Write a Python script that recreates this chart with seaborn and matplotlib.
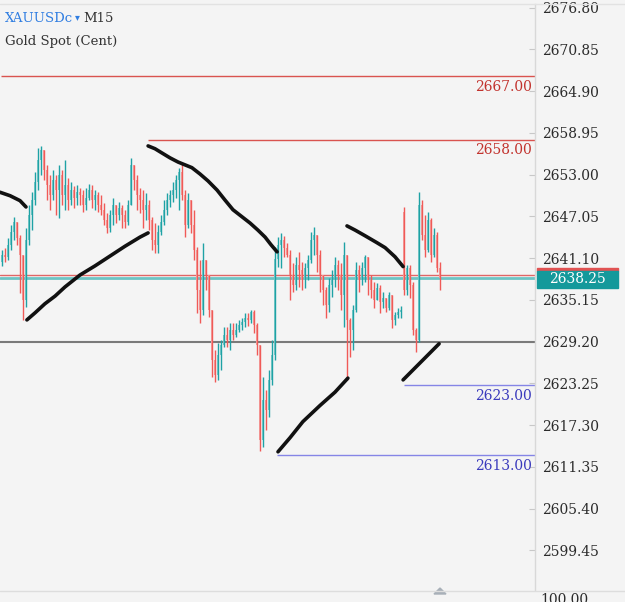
import matplotlib
matplotlib.use("Agg")
import matplotlib.pyplot as plt
import seaborn as sns
import numpy as np
import pandas as pd
from matplotlib.patches import Rectangle, Polygon
from matplotlib.lines import Line2D

# ---------------- data ----------------
symbol = "XAUUSDc"
timeframe = "M15"
subtitle = "Gold Spot (Cent)"

opens = [
    2640.6, 2641.6, 2641.2, 2643.0, 2644.8, 2646.3, 2644.0, 2641.6, 2635.2, 2643.7,
    2647.3, 2649.4, 2652.0, 2655.1, 2656.5, 2653.7, 2651.5, 2650.1, 2652.3, 2650.8,
    2653.0, 2650.1, 2651.5, 2649.4, 2650.8, 2649.7, 2650.6, 2650.1, 2648.7, 2649.7,
    2650.8, 2649.4, 2650.1, 2648.7, 2648.0, 2646.6, 2645.4, 2647.3, 2648.7, 2647.3,
    2648.3, 2647.3, 2646.3, 2648.7, 2654.4, 2652.3, 2650.1, 2649.4, 2648.0, 2648.7,
    2646.6, 2643.7, 2643.0, 2644.8, 2646.3, 2648.0, 2649.4, 2650.1, 2650.8, 2652.3,
    2653.4, 2650.1, 2645.8, 2649.4, 2645.8, 2642.3, 2636.6, 2633.7, 2640.9, 2638.7,
    2633.7, 2626.6, 2624.5, 2627.3, 2628.7, 2630.2, 2629.5, 2630.9, 2630.2, 2630.9,
    2631.6, 2632.0, 2632.6, 2632.3, 2633.4, 2631.6, 2628.7, 2615.2, 2620.9, 2619.5,
    2623.8, 2627.3, 2641.0, 2643.0, 2643.7, 2642.6, 2641.6, 2638.7, 2637.3, 2640.1,
    2639.4, 2638.0, 2639.7, 2640.9, 2643.7, 2644.4, 2641.6, 2638.7, 2636.6, 2634.4,
    2637.3, 2638.3, 2640.1, 2638.7, 2635.9, 2641.6, 2632.3, 2630.9, 2633.7, 2639.4,
    2638.0, 2639.7, 2641.2, 2638.0, 2636.6, 2635.2, 2636.9, 2634.9, 2635.4, 2634.0,
    2635.9, 2632.3, 2633.0, 2633.4, 2647.7, 2636.6, 2639.7, 2637.3, 2630.9, 2629.5,
    2648.7, 2644.4, 2642.3, 2646.6, 2641.6, 2644.4, 2639.7]
closes = [
    2641.6, 2641.2, 2643.0, 2644.8, 2646.3, 2644.0, 2641.6, 2635.2, 2643.7, 2647.3,
    2649.4, 2652.0, 2655.1, 2656.5, 2653.7, 2651.5, 2650.1, 2652.3, 2650.8, 2653.0,
    2650.1, 2651.5, 2649.4, 2650.8, 2649.7, 2650.6, 2650.1, 2648.7, 2649.7, 2650.8,
    2649.4, 2650.1, 2648.7, 2648.0, 2646.6, 2645.4, 2647.3, 2648.7, 2647.3, 2648.3,
    2647.3, 2646.3, 2648.7, 2654.4, 2652.3, 2650.1, 2649.4, 2648.0, 2648.7, 2646.6,
    2643.7, 2643.0, 2644.8, 2646.3, 2648.0, 2649.4, 2650.1, 2650.8, 2652.3, 2653.4,
    2650.1, 2645.8, 2649.4, 2645.8, 2642.3, 2636.6, 2633.7, 2640.9, 2638.7, 2633.7,
    2626.6, 2624.5, 2627.3, 2628.7, 2630.2, 2629.5, 2630.9, 2630.2, 2630.9, 2631.6,
    2632.0, 2632.6, 2632.3, 2633.4, 2631.6, 2628.7, 2615.2, 2620.9, 2619.5, 2623.8,
    2627.3, 2641.0, 2643.0, 2643.7, 2642.6, 2641.6, 2638.7, 2637.3, 2640.1, 2639.4,
    2638.0, 2639.7, 2640.9, 2643.7, 2644.4, 2641.6, 2638.7, 2636.6, 2634.4, 2637.3,
    2638.3, 2640.1, 2638.7, 2635.9, 2641.6, 2632.3, 2630.9, 2633.7, 2639.4, 2638.0,
    2639.7, 2641.2, 2638.0, 2636.6, 2635.2, 2636.9, 2634.9, 2635.4, 2634.0, 2635.9,
    2632.3, 2633.0, 2633.4, 2633.7, 2636.6, 2639.7, 2637.3, 2630.9, 2629.5, 2648.7,
    2644.4, 2642.3, 2646.6, 2641.6, 2644.4, 2639.7, 2638.25]
highs = [
    2642.3, 2642.6, 2644.0, 2645.8, 2647.0, 2646.3, 2644.4, 2641.6, 2645.4, 2648.7,
    2650.6, 2653.4, 2656.8, 2657.1, 2656.2, 2654.4, 2653.0, 2653.7, 2653.0, 2654.4,
    2653.7, 2655.1, 2652.5, 2652.0, 2651.4, 2651.5, 2651.1, 2650.8, 2651.1, 2651.7,
    2651.5, 2650.8, 2650.6, 2650.1, 2649.0, 2647.6, 2648.0, 2649.7, 2648.7, 2649.1,
    2648.7, 2648.0, 2649.4, 2655.4, 2654.1, 2653.0, 2651.1, 2650.8, 2650.4, 2649.4,
    2647.0, 2646.1, 2645.8, 2647.3, 2649.4, 2650.4, 2650.8, 2652.0, 2653.0, 2654.0,
    2654.7, 2650.8, 2650.4, 2648.4, 2648.0, 2642.7, 2640.9, 2643.3, 2640.9, 2638.4,
    2633.7, 2628.0, 2629.0, 2629.5, 2631.3, 2631.3, 2631.9, 2631.9, 2631.9, 2632.3,
    2632.6, 2633.3, 2633.3, 2633.7, 2633.7, 2631.9, 2628.7, 2624.2, 2622.3, 2625.2,
    2629.5, 2642.7, 2644.1, 2644.7, 2644.3, 2643.3, 2642.3, 2640.4, 2641.2, 2642.0,
    2640.6, 2640.4, 2641.6, 2644.8, 2645.6, 2643.0, 2642.3, 2638.4, 2637.0, 2638.3,
    2639.4, 2641.2, 2640.9, 2640.4, 2643.4, 2641.6, 2632.6, 2634.4, 2640.6, 2640.1,
    2640.6, 2641.6, 2641.2, 2638.7, 2637.7, 2637.6, 2637.3, 2636.3, 2635.4, 2636.3,
    2635.9, 2633.4, 2634.0, 2634.3, 2648.4, 2640.1, 2640.1, 2637.7, 2631.2, 2650.6,
    2649.4, 2647.3, 2647.7, 2646.8, 2645.4, 2644.8, 2640.6]
lows = [
    2640.0, 2640.6, 2640.9, 2642.3, 2643.7, 2643.0, 2636.2, 2632.3, 2634.2, 2643.0,
    2645.1, 2648.7, 2650.8, 2653.0, 2652.3, 2649.4, 2648.0, 2649.4, 2647.3, 2646.8,
    2648.7, 2648.0, 2648.0, 2648.7, 2648.3, 2648.7, 2648.7, 2647.7, 2648.0, 2649.4,
    2648.3, 2648.0, 2647.7, 2647.3, 2645.8, 2644.7, 2644.8, 2645.8, 2646.1, 2646.6,
    2645.4, 2645.4, 2645.8, 2648.7, 2650.8, 2648.0, 2647.6, 2645.4, 2646.6, 2645.1,
    2642.3, 2641.8, 2641.8, 2644.4, 2645.8, 2647.3, 2648.4, 2649.1, 2649.7, 2648.0,
    2649.4, 2644.1, 2645.4, 2644.7, 2640.9, 2633.3, 2631.9, 2633.0, 2636.6, 2632.7,
    2624.2, 2623.5, 2623.8, 2625.2, 2628.5, 2628.5, 2628.0, 2629.5, 2629.9, 2630.6,
    2630.9, 2631.3, 2631.4, 2631.9, 2630.4, 2627.3, 2613.6, 2614.2, 2616.6, 2618.5,
    2623.0, 2626.6, 2639.9, 2639.7, 2641.3, 2641.2, 2635.2, 2636.3, 2636.6, 2637.0,
    2636.6, 2636.9, 2638.0, 2640.4, 2641.6, 2639.1, 2636.3, 2634.4, 2632.6, 2633.4,
    2635.6, 2637.0, 2636.6, 2633.7, 2631.3, 2623.8, 2627.0, 2628.0, 2633.4, 2636.3,
    2637.3, 2637.7, 2635.9, 2635.4, 2634.0, 2635.2, 2633.3, 2634.0, 2633.4, 2633.7,
    2631.2, 2631.6, 2632.6, 2632.6, 2635.9, 2635.9, 2635.4, 2630.2, 2627.7, 2629.2,
    2643.7, 2641.2, 2642.0, 2640.6, 2641.2, 2639.1, 2636.6]

# hand-drawn trend strokes (bar index, price)
trend_a_x = [-0.7, 2.7, 6.0, 8.0]
trend_a_y = [2650.5, 2650.0, 2649.3, 2648.4]
trend_b_x = [8.3, 11.0, 14.3, 17.7, 21.0, 26.0, 31.0, 36.0, 41.0, 46.0, 48.7]
trend_b_y = [2632.3, 2633.3, 2634.6, 2635.7, 2637.0, 2638.7, 2640.0, 2641.4,
             2642.8, 2644.1, 2644.7]
trend_c_x = [48.7, 51.0, 53.3, 56.0, 58.7, 61.0, 63.3, 66.0, 68.7, 71.7, 74.3,
             77.0, 80.0, 82.7, 85.3, 87.7, 89.7, 91.7]
trend_c_y = [2657.1, 2656.7, 2656.1, 2655.4, 2654.8, 2654.4, 2654.0, 2653.1, 2652.1,
             2650.8, 2649.4, 2648.0, 2647.0, 2646.1, 2645.1, 2644.1, 2643.0, 2642.0]
trend_d_x = [92.0, 96.0, 100.3, 106.0, 111.0, 115.3]
trend_d_y = [2613.5, 2615.5, 2617.8, 2620.1, 2622.0, 2624.0]
trend_e_x = [115.0, 117.7, 121.0, 125.0, 127.7, 131.0, 133.7]
trend_e_y = [2645.7, 2645.1, 2644.3, 2643.3, 2642.6, 2641.3, 2639.9]
trend_f_x = [133.7, 145.7]
trend_f_y = [2623.75, 2628.9]

# horizontal levels
res_levels = [2667.00, 2658.00]
res_starts = [-0.3, 48.7]
sup_levels = [2623.00, 2613.00]
sup_starts = [134.0, 91.7]
pivot_level = 2629.20
last_price = 2638.25
ask_price = 2638.70

tick_values = [2676.80, 2670.85, 2664.90, 2658.95, 2653.00, 2647.05, 2641.10,
               2635.15, 2629.20, 2623.25, 2617.30, 2611.35, 2605.40, 2599.45]

# ---------------- style ----------------
BG = "#f4f4f4"
UP, UP_BODY = "#1ea2a5", "#7fcaca"
DN, DN_BODY = "#f05a57", "#f3a09f"
RED_LINE, RED_TXT = "#d9534f", "#c2332e"
BLUE_LINE, BLUE_TXT = "#8585e6", "#3b3bbd"

sns.set_theme(style="white")
plt.rcParams['font.family'] = ['DejaVu Serif', 'DejaVu Sans']

fig = plt.figure(figsize=(6.25, 6.02), dpi=100, facecolor=BG)
ax = fig.add_axes([0, 1 - 590 / 602, 535 / 625, 586 / 602])
ax.set_facecolor(BG)

df = pd.DataFrame({"o": opens, "h": highs, "l": lows, "c": closes})
df["i"] = np.arange(len(df))
df["h"] = df[["h", "o", "c"]].max(axis=1)
df["l"] = df[["l", "o", "c"]].min(axis=1)
up = df["c"] >= df["o"]
body_bottom = df[["o", "c"]].min(axis=1)
body_h = (df["c"] - df["o"]).abs().clip(lower=0.12)

ax.bar(df["i"], body_h, bottom=body_bottom, width=0.85,
       color=np.where(up, UP_BODY, DN_BODY), linewidth=0, zorder=2)
ax.vlines(df["i"], df["l"], df["h"], colors=np.where(up, UP, DN),
          linewidth=1.0, zorder=3)

x_left, x_right = -0.667, 177.67

# level lines
for lv, st in zip(res_levels, res_starts):
    ax.hlines(lv, st, x_right, color=RED_LINE, lw=1.0, zorder=1)
    ax.annotate(f"{lv:.2f}", xy=(1, lv), xycoords=("axes fraction", "data"),
                xytext=(-2, -2.5), textcoords="offset points", ha="right", va="top",
                color=RED_TXT, fontsize=10)
for lv, st in zip(sup_levels, sup_starts):
    ax.hlines(lv, st, x_right, color=BLUE_LINE, lw=1.0, zorder=1)
    ax.annotate(f"{lv:.2f}", xy=(1, lv), xycoords=("axes fraction", "data"),
                xytext=(-2, -2.5), textcoords="offset points", ha="right", va="top",
                color=BLUE_TXT, fontsize=10)
ax.axhline(pivot_level, color="#7a7a7a", lw=1.5, zorder=1)
ax.axhline(last_price, color="#6cc4c4", lw=2.0, zorder=1)
ax.axhline(ask_price, color="#e06666", lw=1.0, zorder=1)

# trend strokes
for tx, ty in [(trend_a_x, trend_a_y), (trend_b_x, trend_b_y), (trend_c_x, trend_c_y),
               (trend_d_x, trend_d_y), (trend_e_x, trend_e_y), (trend_f_x, trend_f_y)]:
    sns.lineplot(x=tx, y=ty, ax=ax, color="#111111", lw=2.6, sort=False,
                 estimator=None, solid_capstyle="round", solid_joinstyle="round",
                 zorder=4)

ax.set_xlim(x_left, x_right)
ax.set_ylim(2593.8, 2677.33)
ax.set_xticks([])
ax.yaxis.tick_right()
ax.set_yticks(tick_values)
ax.set_yticklabels([f"{v:.2f}" for v in tick_values])
ax.tick_params(axis="y", direction="in", length=4, width=0.8, color="#c8c8c8",
               pad=5, labelsize=10, labelcolor="#2b2b2b")
for s in ["top", "left", "bottom"]:
    ax.spines[s].set_visible(False)
ax.spines["right"].set_color("#d8d8d8")
ax.spines["right"].set_linewidth(1.0)
ax.set_xlabel("")
ax.set_ylabel("")

# header texts
def fx(px):
    return px / 625
def fy(py):
    return 1 - py / 602

fig.text(fx(5), fy(18), symbol, color="#2f7de1", fontsize=9.5, va="center", ha="left")
fig.text(fx(75), fy(17), "\u25be", color="#2f7de1", fontsize=7, va="center", ha="left",
         family="DejaVu Sans")
fig.text(fx(83), fy(18), timeframe, color="#333333", fontsize=9.5, va="center", ha="left")
fig.text(fx(5), fy(42), subtitle, color="#333333", fontsize=9.5, va="center", ha="left")

# top border
fig.add_artist(Line2D([0, 1], [fy(4), fy(4)], color="#e2e2e2", lw=1.0))
# bottom separator and scroll marker
fig.add_artist(Line2D([0, 1], [fy(591), fy(591)], color="#dddddd", lw=1.0))
fig.add_artist(Polygon([[fx(434), fy(594)], [fx(446), fy(594)], [fx(440), fy(588)]],
                       closed=True, color="#a8b0b8", transform=fig.transFigure))
fig.text(fx(540), fy(600), "100.00", color="#2b2b2b", fontsize=10, va="center", ha="left")

# current price label
fig.add_artist(Rectangle((fx(537), fy(271)), 81 / 625, 3 / 602, color="#e05252",
                         transform=fig.transFigure))
fig.add_artist(Rectangle((fx(537), fy(288)), 81 / 625, 17 / 602, color="#14999b",
                         transform=fig.transFigure))
fig.text(fx(577), fy(279), f"{last_price:.2f}", color="white", fontsize=10,
         va="center", ha="center")

fig.savefig("out.png", dpi=100, facecolor=BG)
